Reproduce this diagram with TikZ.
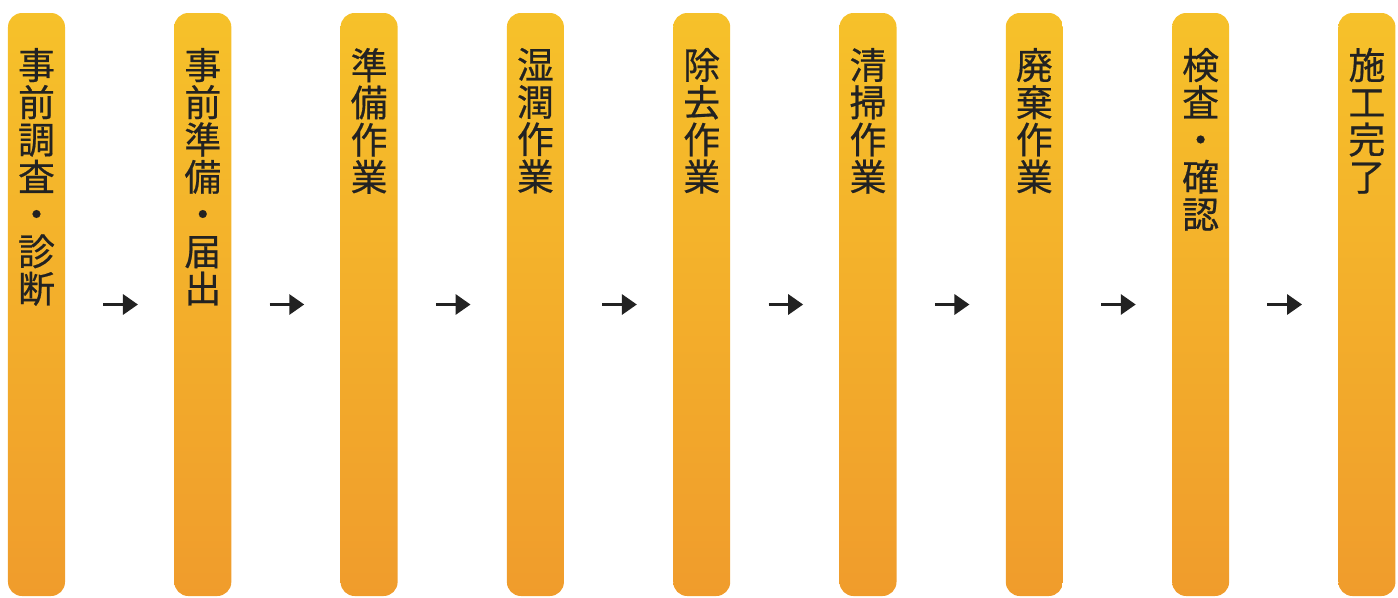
\documentclass[tikz,border=0pt]{standalone}
\usepackage{fontspec}
\usepackage{tikz}
\usetikzlibrary{arrows.meta, positioning}
\newfontfamily\jpfont[FakeBold=0.5]{Noto Sans CJK JP}
\definecolor{barTop}{RGB}{246,193,42}
\definecolor{barMid}{RGB}{244,175,40}
\definecolor{barBot}{RGB}{240,156,44}
\definecolor{inkDark}{RGB}{34,34,34}

\begin{document}
\begin{tikzpicture}[>={Triangle[length=0.3cm,width=0.4cm]}, node distance=2.172cm,
    bar/.style={rectangle, rounded corners=0.28cm, minimum width=1.14cm, minimum height=11.66cm, inner sep=0pt,
        top color=barTop, middle color=barMid, bottom color=barBot, draw=none},
    lbl/.style={align=center, inner sep=0pt, text=inkDark, font=\jpfont\fontsize{21pt}{21.2pt}\selectfont},
    flow/.style={->, draw=inkDark, fill=inkDark, line width=0.065cm, shorten <=0.76cm, shorten >=0.72cm}]
			\useasboundingbox (0,0) rectangle (27.96,-11.94);
			% Bars
			\node[bar] (b1) at (0.73,-6.09) {};
			\node[bar] (b2) [right=of b1] {};
			\node[bar] (b3) [right=of b2] {};
			\node[bar] (b4) [right=of b3] {};
			\node[bar] (b5) [right=of b4] {};
			\node[bar] (b6) [right=of b5] {};
			\node[bar] (b7) [right=of b6] {};
			\node[bar] (b8) [right=of b7] {};
			\node[bar] (b9) [right=of b8] {};
			% Labels
			\node[lbl] (t1) [below=0.7cm of b1.north] {事\\前\\調\\査\\・\\診\\断};
			\node[lbl] (t2) [below=0.7cm of b2.north] {事\\前\\準\\備\\・\\届\\出};
			\node[lbl] (t3) [below=0.7cm of b3.north] {準\\備\\作\\業};
			\node[lbl] (t4) [below=0.7cm of b4.north] {湿\\潤\\作\\業};
			\node[lbl] (t5) [below=0.7cm of b5.north] {除\\去\\作\\業};
			\node[lbl] (t6) [below=0.7cm of b6.north] {清\\掃\\作\\業};
			\node[lbl] (t7) [below=0.7cm of b7.north] {廃\\棄\\作\\業};
			\node[lbl] (t8) [below=0.7cm of b8.north] {検\\査\\・\\確\\認};
			\node[lbl] (t9) [below=0.7cm of b9.north] {施\\工\\完\\了};
			% Arrows
			\foreach \src/\dst in {b1/b2,b2/b3,b3/b4,b4/b5,b5/b6,b6/b7,b7/b8,b8/b9}
			{\draw[flow] (\src) -- (\dst);}
		\end{tikzpicture}
\end{document}
